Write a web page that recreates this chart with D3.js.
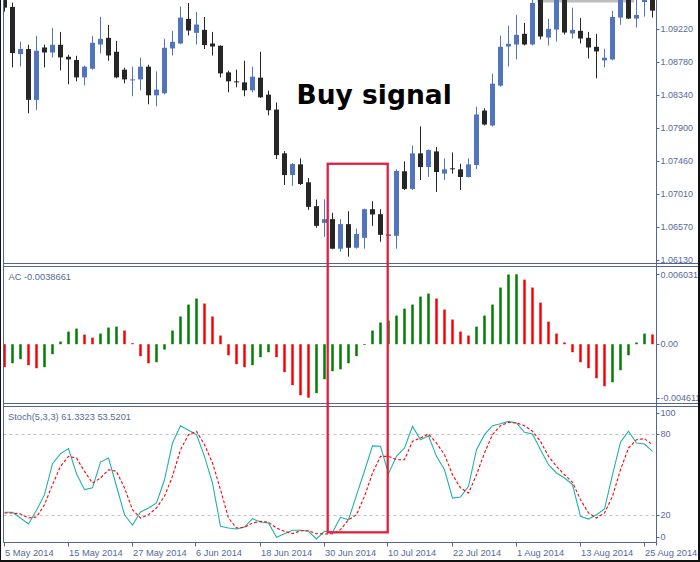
<!DOCTYPE html>
<html><head><meta charset="utf-8">
<script src="https://cdn.jsdelivr.net/npm/d3@7"></script>
<style>html,body{margin:0;padding:0;background:#fff;overflow:hidden}svg{display:block}</style>
</head><body>
<script>
// ---------- data ----------
const dateLabels = ["5 May 2014","15 May 2014","27 May 2014","6 Jun 2014","18 Jun 2014","30 Jun 2014","10 Jul 2014","22 Jul 2014","1 Aug 2014","13 Aug 2014","25 Aug 2014"];
const dateLabelStep = 8;
const open = [1.09637,1.09517,1.08886,1.08953,1.08273,1.08974,1.08907,1.0901,1.0885,1.08806,
1.08574,1.0869,1.09014,1.09103,1.08917,1.08677,1.08539,1.08547,1.08717,1.08334,
1.08361,1.08961,1.09027,1.09357,1.0917,1.0921,1.09027,1.08997,1.08641,1.08521,
1.08507,1.08401,1.0857,1.08343,1.08143,1.07557,1.07267,1.0741,1.0717,1.0685,
1.06627,1.06677,1.06281,1.0661,1.06294,1.06427,1.0681,1.06743,1.0647,1.06454,
1.07317,1.07081,1.07557,1.07374,1.07583,1.07286,1.07357,1.07343,1.07241,1.07401,
1.0813,1.0793,1.08463,1.08987,1.09014,1.09157,1.09014,1.09637,1.09107,1.09214,
1.0965,1.09161,1.09197,1.09103,1.08983,1.08801,1.08814,1.09374,1.0965,1.09361,
1.09583,1.0965];
const high = [1.09703,1.09574,1.0905,1.0901,1.0913,1.09014,1.09237,1.09183,1.08877,1.08863,
1.0873,1.0913,1.09383,1.09277,1.09063,1.08703,1.08717,1.08837,1.08743,1.08654,
1.0909,1.09197,1.09521,1.0957,1.0945,1.09383,1.09183,1.09003,1.08663,1.08677,
1.08797,1.08717,1.08917,1.08397,1.08237,1.07587,1.07427,1.0749,1.07227,1.06939,
1.06943,1.06761,1.06677,1.06783,1.06553,1.06817,1.06917,1.0681,1.06474,1.07343,
1.0745,1.07663,1.07917,1.0761,1.07641,1.0749,1.0757,1.07419,1.0749,1.08183,
1.08161,1.08623,1.09134,1.09267,1.0941,1.09303,1.09663,1.09703,1.09357,1.09677,
1.09703,1.09507,1.0937,1.09183,1.09157,1.08957,1.09463,1.09703,1.09677,1.09637,
1.09677,1.0969];
const low = [1.09454,1.08707,1.08721,1.08094,1.08139,1.08707,1.08841,1.08667,1.08481,1.08521,
1.08467,1.08677,1.08894,1.08797,1.08563,1.08494,1.08321,1.08401,1.08214,1.08187,
1.08347,1.08867,1.09017,1.09134,1.09014,1.08953,1.08867,1.08574,1.08374,1.08441,
1.08321,1.08374,1.08301,1.08067,1.07481,1.07134,1.07121,1.07134,1.06801,1.06561,
1.06441,1.06274,1.06241,1.06174,1.06281,1.06281,1.06587,1.06374,1.06461,1.06281,
1.07067,1.07067,1.07201,1.07241,1.07041,1.07201,1.07286,1.07067,1.07234,1.07347,
1.0793,1.07917,1.0845,1.08721,1.08814,1.09001,1.09001,1.09081,1.09001,1.09054,
1.09147,1.09094,1.09027,1.08827,1.08561,1.08707,1.08801,1.09277,1.09354,1.09241,
1.09387,1.09374];
const close = [1.09507,1.08899,1.08953,1.08273,1.0893,1.08907,1.0901,1.08841,1.08814,1.08574,
1.08717,1.09037,1.0909,1.08867,1.08574,1.08547,1.08547,1.08717,1.08334,1.0841,
1.0897,1.0905,1.09374,1.09201,1.09281,1.09006,1.08987,1.08627,1.08521,1.08513,
1.08401,1.08583,1.08307,1.08134,1.07534,1.07267,1.07414,1.07147,1.06841,1.06587,
1.06677,1.06281,1.0661,1.06294,1.06477,1.0681,1.06739,1.06467,1.06467,1.07321,
1.07081,1.07557,1.07374,1.07601,1.07307,1.07343,1.07347,1.07241,1.0741,1.08077,
1.07943,1.0849,1.08983,1.09023,1.09143,1.09014,1.0957,1.09121,1.09223,1.09637,
1.09174,1.0921,1.09094,1.08974,1.08921,1.08837,1.09383,1.0965,1.09361,1.0941,
1.09623,1.09467];
const acValues = [-0.00198,-0.00164,-0.00129,-0.00181,-0.00207,-0.00198,-0.00086,0.00023,0.00109,0.00135,
0.00083,0.00057,0.00092,0.00144,0.00152,0.00118,0.00009,-0.00103,-0.00164,-0.00155,
-0.00046,0.00118,0.00239,0.00342,0.00394,0.00351,0.00239,0.00075,-0.00095,-0.00172,
-0.00198,-0.00181,-0.00112,-0.00069,-0.00112,-0.00241,-0.00353,-0.0044,-0.004611,-0.00422,
-0.00302,-0.00233,-0.00216,-0.00164,-0.00103,-0.00005,0.00118,0.00187,0.00204,0.00247,
0.00307,0.00342,0.00411,0.00437,0.00394,0.00299,0.00213,0.00109,0.00075,0.00152,
0.00247,0.00342,0.00489,0.00601,0.006031,0.00557,0.00489,0.00359,0.00195,0.00092,
0.00015,-0.00069,-0.00155,-0.00207,-0.00293,-0.00362,-0.00328,-0.00224,-0.00095,0.00015,
0.00092,0.00084];
const stochMain = [22,22,17.8,13.4,23.5,35,57.9,65.3,69,50.5,
38.7,40,59.1,62,41.2,20.2,12.6,22.2,25.2,28.9,
46,73.1,85.9,82.5,79.3,63.3,43.6,11.7,10.4,9.7,
11.1,17.3,14.8,14.1,3.5,6.2,8.7,8.7,8,2.3,
8,7.2,18.3,16.5,34.7,52.5,71,70.7,50.5,63.3,
69.4,85.4,75.6,78.5,63.3,53.4,32.5,33.3,41.2,68.2,
79.3,85.9,87.4,89.1,87.9,81,79.8,68.2,57.1,51,
47.3,42.4,19,17,20.2,24.4,49.7,73.7,81.8,73.1,
72.4,67];
const stochSignal = [21.5,21.5,20.7,17.8,18.5,27.6,42.4,55.9,63.3,62,
52.2,43.6,47.3,53.4,52.2,40,23.9,17.8,20.2,25.2,
33.8,48.6,68.2,79.3,81.8,71.9,58.4,38.7,17.8,10.4,
10.9,14.1,15.3,14.6,10.4,8,6.2,8.4,8.4,6.2,
6,6.2,9.2,16.5,20.2,33.8,51,63.3,63.3,60.8,
60.8,74.4,76.8,79.8,73.1,64.5,49.7,40,36.2,49.7,
65.8,79.3,85.9,88.4,87.9,85.9,81.8,74.4,63.3,55.9,
49.7,44.1,31.3,21.5,17.8,21.5,33.8,53.4,69.4,75.6,
76.3,71.9];
const priceTicks = [1.06130,1.06570,1.07010,1.07460,1.07900,1.08340,1.08780,1.09220];
const acTicks = [0.006031,0,-0.004611];
const acTickLabels = ["0.006031","0.00","-0.004611"];
const stochTicks = [100,80,20,0];
const stochLevels = [80,20];
const acLegend = "AC -0.0038661";
const stochLegend = "Stoch(5,3,3) 61.3323 53.5201";
const signalText = "Buy signal";
// annotation (data units): bar index span, price top, stochastic bottom
const boxBarFrom = 40.4, boxBarTo = 47.9, boxPriceTop = 1.07418, boxStochBottom = 7.2;
const textBar = 36.5, textPrice = 1.08213;

// ---------- layout ----------
const W = 700, H = 562;
const L = 3.5, R = 656.5;
const P = {top: 0, bottom: 263.5};
const A = {top: 266.5, bottom: 403.5};
const S = {top: 406.5, bottom: 542.5};
const frameCol = "#52668f", textCol = "#56699a";
const bull = "#5075bd", bear = "#262626";
const font = "'Liberation Sans', Arial, sans-serif";

const svg = d3.select("body").append("svg").attr("width", W).attr("height", H);
const n = close.length;
const bars = d3.range(n).map(i => ({i, o: open[i], h: high[i], l: low[i], c: close[i]}));

const x = d3.scaleLinear().domain([0, n - 1]).range([4.5, 4.5 + 8 * (n - 1)]);
const yP = d3.scaleLinear().domain([1.0613, 1.0922]).range([260, 29.1]);
const yA = d3.scaleLinear().domain([-0.004611, 0.006031]).range([397.7, 274.3]);
const yS = d3.scaleLinear().domain([0, 100]).range([542.1, 406.6]);

const defs = svg.append("defs");
function clip(id, t, b) {
  defs.append("clipPath").attr("id", id).append("rect").attr("x", L).attr("y", t).attr("width", R - L).attr("height", b - t);
}
clip("cp", P.top, P.bottom); clip("ca", A.top, A.bottom); clip("cs", S.top, S.bottom);

// gray shadow line at top
svg.append("rect").attr("x", x(66.6)).attr("y", 0).attr("width", x(78.7) - x(66.6)).attr("height", 2.5).attr("fill", "#bdbdbd");

// ---------- price panel ----------
const gp = svg.append("g").attr("clip-path", "url(#cp)");
const cg = gp.selectAll("g.c").data(bars).join("g");
cg.append("line").attr("x1", d => x(d.i)).attr("x2", d => x(d.i))
  .attr("y1", d => yP(d.h)).attr("y2", d => yP(d.l))
  .attr("stroke", d => d.c >= d.o ? bull : bear).attr("stroke-width", 1);
cg.append("rect").attr("x", d => x(d.i) - 2.5).attr("width", 5)
  .attr("y", d => Math.min(yP(d.o), yP(d.c)))
  .attr("height", d => Math.max(1, Math.abs(yP(d.o) - yP(d.c))))
  .attr("fill", d => d.c >= d.o ? bull : bear);

svg.append("text").attr("x", x(textBar)).attr("y", yP(textPrice))
  .attr("font-family", "'DejaVu Sans', Verdana, sans-serif").attr("font-weight", "bold")
  .attr("font-size", 26.5).attr("fill", "#000").text(signalText);

// ---------- AC panel ----------
const ga = svg.append("g").attr("clip-path", "url(#ca)");
ga.selectAll("rect").data(acValues).join("rect")
  .attr("x", (d, i) => x(i) - 1.25).attr("width", 2.5)
  .attr("y", d => Math.min(yA(d), yA(0)))
  .attr("height", d => Math.max(0.8, Math.abs(yA(d) - yA(0))))
  .attr("fill", (d, i) => (i > 0 && d > acValues[i - 1]) ? "#008000" : "#ff0000");

// ---------- Stochastic panel ----------
const gs = svg.append("g").attr("clip-path", "url(#cs)");
stochLevels.forEach(v => {
  gs.append("line").attr("x1", L).attr("x2", R).attr("y1", Math.round(yS(v)) + 0.5).attr("y2", Math.round(yS(v)) + 0.5)
    .attr("stroke", "#c4c4c4").attr("stroke-dasharray", "3,3");
});
const line = d3.line().x((d, i) => x(i)).y(d => yS(d));
gs.append("path").attr("d", line(stochMain)).attr("fill", "none").attr("stroke", "#20b2aa").attr("stroke-width", 1.1);
gs.append("path").attr("d", line(stochSignal)).attr("fill", "none").attr("stroke", "#ff0000").attr("stroke-width", 1.1).attr("stroke-dasharray", "3,2");

// ---------- frames ----------
const fr = svg.append("g").attr("stroke", frameCol).attr("stroke-width", 1).attr("fill", "none");
[P.bottom, A.top, A.bottom, S.top].forEach(y => fr.append("line").attr("x1", L).attr("x2", 698).attr("y1", y).attr("y2", y));
fr.append("line").attr("x1", L).attr("x2", R).attr("y1", S.bottom).attr("y2", S.bottom);
fr.append("line").attr("x1", L).attr("x2", L).attr("y1", 0).attr("y2", S.bottom);
fr.append("line").attr("x1", R).attr("x2", R).attr("y1", 0).attr("y2", S.bottom + 3);

// ---------- right axes ----------
const ax = svg.append("g").attr("font-family", font).attr("font-size", 9).attr("fill", textCol);
function rightAxis(ticks, labels, scale, top, bottom) {
  ticks.forEach((v, k) => {
    let y = scale(v);
    y = Math.max(top + 6.5, Math.min(bottom - 6, y));
    ax.append("line").attr("x1", R).attr("x2", R + 3).attr("y1", Math.round(y) + 0.5).attr("y2", Math.round(y) + 0.5).attr("stroke", frameCol);
    ax.append("text").attr("x", R + 4).attr("y", y + 3.2).text(labels[k]);
  });
}
rightAxis(priceTicks, priceTicks.map(d => d.toFixed(5)), yP, P.top, P.bottom + 4);
rightAxis(acTicks, acTickLabels, yA, A.top, A.bottom + 0.5);
rightAxis(stochTicks, stochTicks.map(String), yS, S.top, S.bottom);

// ---------- bottom date axis ----------
const axb = svg.append("g").attr("font-family", font).attr("font-size", 9.3).attr("fill", textCol);
dateLabels.forEach((lab, k) => {
  const xi = Math.round(x(k * dateLabelStep)) - 0.5;
  svg.append("line").attr("x1", xi).attr("x2", xi).attr("y1", S.bottom).attr("y2", S.bottom + 4).attr("stroke", frameCol);
  axb.append("text").attr("x", xi + 0.5).attr("y", 556).text(lab);
});

// legends
axb.append("text").attr("x", 8.5).attr("y", 279.5).text(acLegend);
axb.append("text").attr("x", 8).attr("y", 419.5).text(stochLegend);

// ---------- annotation box ----------
const bx1 = x(boxBarFrom), bx2 = x(boxBarTo), by1 = yP(boxPriceTop), by2 = yS(boxStochBottom);
svg.append("rect").attr("x", bx1).attr("y", by1).attr("width", bx2 - bx1).attr("height", by2 - by1)
  .attr("fill", "none").attr("stroke", "#e0203f").attr("stroke-width", 2.3);

// ---------- outer window frame ----------
svg.append("rect").attr("x", 0).attr("y", 0).attr("width", 1).attr("height", H).attr("fill", "#111");
svg.append("rect").attr("x", 698).attr("y", 0).attr("width", 2).attr("height", H).attr("fill", "#111");
svg.append("rect").attr("x", 0).attr("y", 560).attr("width", W).attr("height", 2).attr("fill", "#111");
</script>
</body></html>
